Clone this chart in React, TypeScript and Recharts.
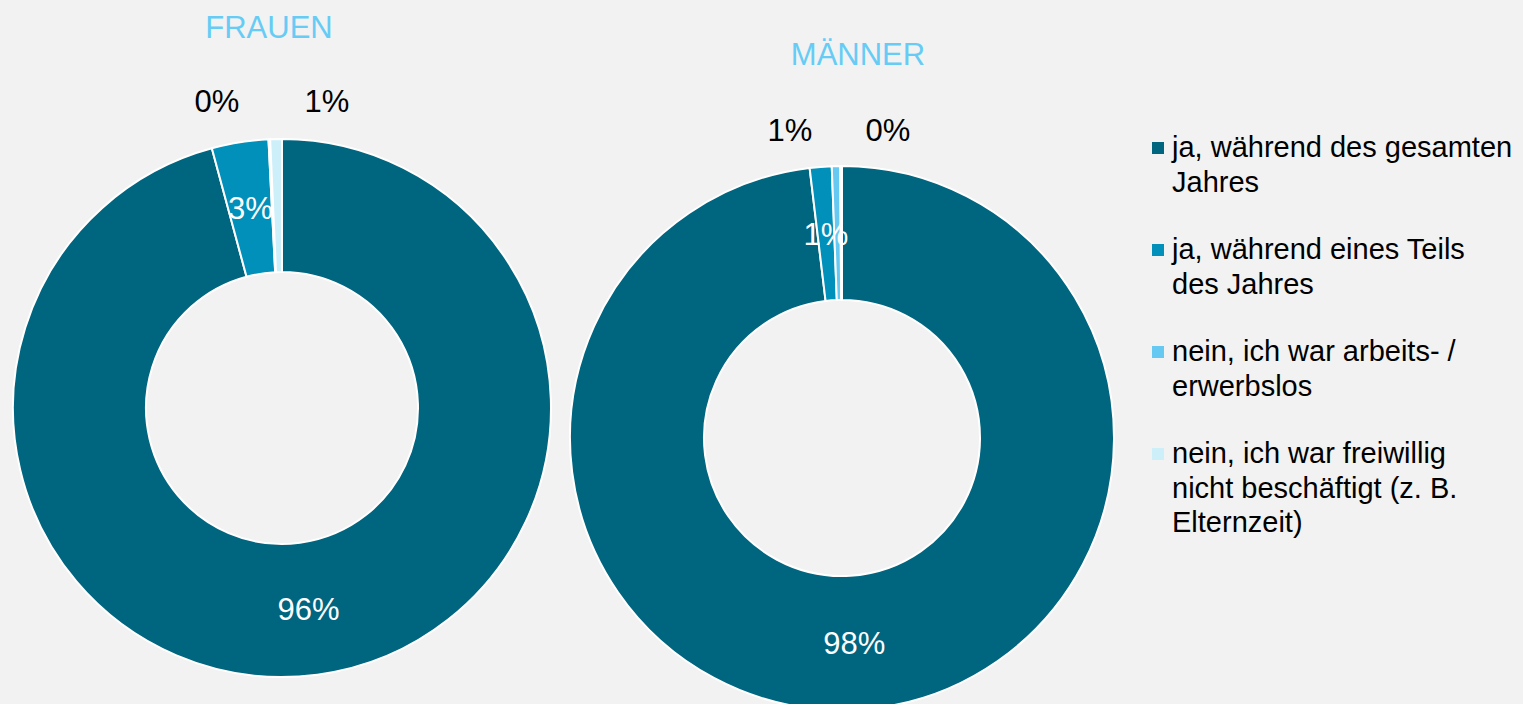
import React from 'react';
import { PieChart, Pie, Cell, Legend, Customized } from 'recharts';

const categories = [
  'ja, während des gesamten\nJahres',
  'ja, während eines Teils\ndes Jahres',
  'nein, ich war arbeits- /\nerwerbslos',
  'nein, ich war freiwillig\nnicht beschäftigt (z. B.\nElternzeit)',
];
const frauenValues = [95.8, 3.4, 0.1, 0.7];
const maennerValues = [98.1, 1.3, 0.5, 0.1];
const groupTitles = ['FRAUEN', 'MÄNNER'];

const colors = ['#00657F', '#0090B9', '#66C9F1', '#CCEFF9'];
const FONT = '"Liberation Sans", Arial, Helvetica, sans-serif';
const W = 1523;
const H = 704;

const frauenData = categories.map((c, i) => ({ name: c, value: frauenValues[i] }));
const maennerData = categories.map((c, i) => ({ name: c, value: maennerValues[i] }));

const RAD = Math.PI / 180;

function makeLabel(outsideDx: number[], outsideDy: number) {
  return (props: any) => {
    const { cx, cy, midAngle, innerRadius, outerRadius, value, index } = props;
    const txt = `${Math.round(value)}%`;
    if (index >= 2) {
      const x = cx + outsideDx[index - 2];
      const y = cy - outerRadius + outsideDy;
      return (
        <text x={x} y={y} dy="0.36em" textAnchor="middle" fill="#000" fontSize={31} fontFamily={FONT}>
          {txt}
        </text>
      );
    }
    const r = (innerRadius + outerRadius) / 2;
    const x = cx + r * Math.cos(-midAngle * RAD);
    const y = cy + r * Math.sin(-midAngle * RAD);
    return (
      <text x={x} y={y} dy="0.36em" textAnchor="middle" fill="#fff" fontSize={31} fontFamily={FONT}>
        {txt}
      </text>
    );
  };
}

const LegendContent = () => (
  <div style={{ fontFamily: FONT, fontSize: 29, lineHeight: '34.5px', color: '#000' }}>
    {categories.map((c, i) => (
      <div key={i} style={{ position: 'relative', paddingLeft: 20, marginBottom: 33, whiteSpace: 'pre' }}>
        <span
          style={{
            position: 'absolute',
            left: 0,
            top: 12,
            width: 12,
            height: 12,
            background: colors[i],
          }}
        />
        {c}
      </div>
    ))}
  </div>
);

const Titles = () => (
  <g fontFamily={FONT} fontSize={31} fill="#66CCF5">
    <text x={269} y={38} textAnchor="middle">{groupTitles[0]}</text>
    <text x={858} y={65} textAnchor="middle">{groupTitles[1]}</text>
  </g>
);

export default function App() {
  return (
    <div
      style={{
        position: 'absolute',
        left: 0,
        top: 0,
        width: W,
        height: H,
        background: '#F2F2F2',
        overflow: 'hidden',
      }}
    >
      <PieChart width={W} height={H} margin={{ top: 0, right: 0, bottom: 0, left: 0 }}>
        <Pie
          data={frauenData}
          dataKey="value"
          nameKey="name"
          cx={282}
          cy={408}
          innerRadius={136}
          outerRadius={269}
          startAngle={90}
          endAngle={-270}
          stroke="#FFFFFF"
          strokeWidth={2}
          labelLine={false}
          label={makeLabel([-65, 45], -38)}
          isAnimationActive={false}
        >
          {frauenData.map((d, i) => (
            <Cell key={i} fill={colors[i]} />
          ))}
        </Pie>
        <Pie
          data={maennerData}
          dataKey="value"
          nameKey="name"
          cx={842}
          cy={438}
          innerRadius={138}
          outerRadius={272}
          startAngle={90}
          endAngle={-270}
          stroke="#FFFFFF"
          strokeWidth={2}
          labelLine={false}
          label={makeLabel([-52, 46], -36)}
          isAnimationActive={false}
        >
          {maennerData.map((d, i) => (
            <Cell key={i} fill={colors[i]} />
          ))}
        </Pie>
        <Legend
          verticalAlign="bottom"
          content={() => <LegendContent />}
          wrapperStyle={{ position: 'absolute', left: 1152, top: 130, width: 371, bottom: 'auto' }}
        />
        <Customized component={Titles} />
      </PieChart>
    </div>
  );
}
